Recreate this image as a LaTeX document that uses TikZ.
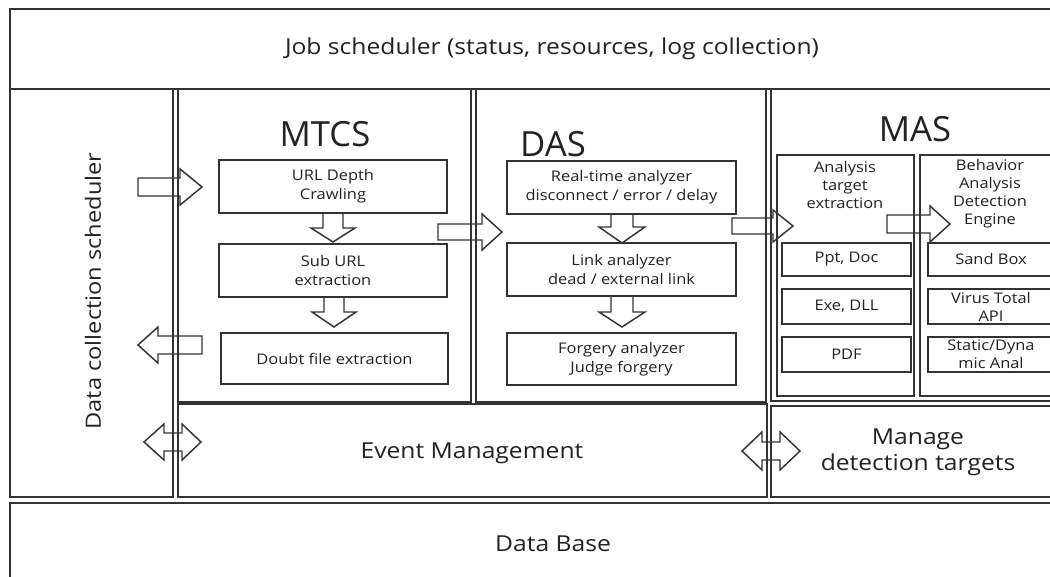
\documentclass[tikz,border=0pt]{standalone}
\usepackage{fontspec}
\setmainfont{Open Sans}
\newfontfamily\wfont[FakeStretch=1.12]{Open Sans}
\definecolor{lc}{HTML}{333333}
\definecolor{tc}{HTML}{222222}
\newcommand{\myharr}[6]{\draw[arr] (#1,#4-#5) -- (#2,#4-#5) -- (#2,#4-#6) -- (#3,#4) -- (#2,#4+#6) -- (#2,#4+#5) -- (#1,#4+#5) -- cycle;}
\newcommand{\myvarr}[6]{\draw[arr] (#1-#5,#2) -- (#1-#5,#3) -- (#1-#6,#3) -- (#1,#4) -- (#1+#6,#3) -- (#1+#5,#3) -- (#1+#5,#2) -- cycle;}
\newcommand{\mydarr}[7]{\draw[arr] (#1,#5) -- (#2,#5-#7) -- (#2,#5-#6) -- (#3,#5-#6) -- (#3,#5-#7) -- (#4,#5) -- (#3,#5+#7) -- (#3,#5+#6) -- (#2,#5+#6) -- (#2,#5+#7) -- cycle;}
\begin{document}
\begin{tikzpicture}[x=0.75pt,y=-0.75pt,
  box/.style={draw=lc,line width=1.3pt},
  ibox/.style={draw=lc,line width=1.1pt},
  arr/.style={draw=lc,line width=1.1pt,line join=miter},
  big/.style={font=\wfont\fontsize{16.5}{19.5}\selectfont,text=tc,align=center},
  vbig/.style={font=\wfont\fontsize{15.8}{18}\selectfont,text=tc},
  small/.style={font=\wfont\fontsize{11}{14.2}\selectfont,text=tc,align=center},
  msmall/.style={font=\wfont\fontsize{11}{13.4}\selectfont,text=tc,align=center},
  ttl/.style={font=\fontsize{26}{30}\selectfont,text=tc}]
\useasboundingbox (0,0) rectangle (1050,577);
\fill[white] (0,0) rectangle (1050,577);
% outer boxes
\draw[box] (10,9) rectangle (1070,89);
\draw[box] (10,89) rectangle (173,497);
\draw[box] (178,89) rectangle (471,402);
\draw[box] (476,89) rectangle (766,402);
\draw[box] (771,89) rectangle (1070,401);
\draw[box] (178,404) rectangle (767,497);
\draw[box] (771,406) rectangle (1070,497);
\draw[box] (10,503) rectangle (1070,600);
% MAS inner panels
\draw[ibox] (777,155) rectangle (914,396);
\draw[ibox] (920,155) rectangle (1070,396);
% texts of big boxes
\node[big] (job) at (552,49) {Job scheduler (status, resources, log collection)};
\node[vbig,rotate=90] (dcs) at (93,291) {Data collection scheduler};
\node[ttl] (mtcs) at (325,134) {MTCS};
\node[ttl] (das) at (553,144) {DAS};
\node[ttl] (mas) at (915,129) {MAS};
\node[big] (ev) at (472,453) {Event Management};
\node[big] (mdt) at (918,452) {Manage\\detection targets};
\node[big] (db) at (553,544) {Data Base};
% MTCS boxes
\draw[ibox] (219,160) rectangle (447,213);
\node[small] (m1) at (333,186.5) {URL Depth\\Crawling};
\draw[ibox] (219,244) rectangle (447,297);
\node[small] (m2) at (333,270.5) {Sub URL\\extraction};
\draw[ibox] (221,333) rectangle (448,384);
\node[small] (m3) at (334.5,358.5) {Doubt file extraction};
% DAS boxes
\draw[ibox] (507,161) rectangle (736,214);
\node[small] (d1) at (621.5,187.5) {Real-time analyzer\\disconnect / error / delay};
\draw[ibox] (507,243) rectangle (736,296);
\node[small] (d2) at (621.5,269.5) {Link analyzer\\dead / external link};
\draw[ibox] (507,333) rectangle (736,385);
\node[small] (d3) at (621.5,359) {Forgery analyzer\\Judge forgery};
% MAS texts
\node[msmall] (ate) at (845,185) {Analysis\\target\\extraction};
\node[msmall] (bade) at (990,193.5) {Behavior\\Analysis\\Detection\\Engine};
\draw[ibox] (782,243) rectangle (911,276);
\node[small] (a1) at (846.5,259.5) {Ppt, Doc};
\draw[ibox] (782,289) rectangle (911,324);
\node[small] (a2) at (846.5,306.5) {Exe, DLL};
\draw[ibox] (782,337) rectangle (911,372);
\node[small] (a3) at (846.5,354.5) {PDF};
\draw[ibox] (928,243) rectangle (1070,276);
\node[small] (s1) at (991,259.5) {Sand Box};
\draw[ibox] (928,289) rectangle (1070,324);
\node[msmall] (s2) at (991,306.5) {Virus Total\\API};
\draw[ibox] (928,337) rectangle (1070,372);
\node[msmall] (s3) at (991,354.5) {Static/Dyna\\mic Anal};
% block arrows
\myharr{138}{180}{202}{187}{9}{18}
\myharr{202}{158}{138}{345}{9}{18}
\myharr{438}{482}{502}{232}{8}{18}
\myharr{732}{773}{793}{226}{8}{16}
\myharr{887}{930}{950}{224}{9}{18}
\myvarr{333}{213}{228}{242}{10}{22}
\myvarr{334}{297}{312}{327}{10}{22}
\myvarr{622}{214}{227}{243}{11}{23}
\myvarr{622}{296}{312}{327}{11}{23}
\mydarr{144}{164}{182}{201}{442}{9}{18}
\mydarr{742}{762}{780}{800}{451}{9}{19}
\end{tikzpicture}
\end{document}
